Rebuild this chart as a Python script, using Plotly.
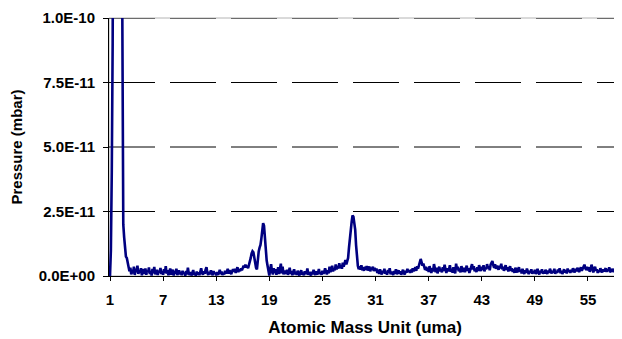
import numpy as np
import plotly.graph_objects as go

# Mass axis: 1.0 .. 58.7 amu, step 0.1
amu_start = 1.0
amu_step = 0.1

# Pressure in units of 1e-12 mbar (one row = 2 amu)
pressure_e12 = [
    0, 10, 40, 90, 200, 350, 480, 560, 600, 560, 480, 380, 260, 170, 105, 20, 15, 9, 7.5, 7.0,
    4.5, 3.5, 1.8, 3.2, 0.6, 2.4, 1.0, 3.6, 0.4, 2.8, 1.5, 4.0, 0.8, 2.2, 1.2, 3.0, 0.3, 2.6, 1.8, 0.9,
    2.9, 0.5, 2.1, 1.4, 3.3, 0.7, 1.9, 0.2, 2.7, 1.1, 3.5, 0.6, 1.6, 2.4, 0.4, 2.0, 1.3, 3.1, 0.8, 1.7,
    0.5, 2.6, 1.2, 3.8, 0.9, 2.2, 0.3, 1.8, 2.9, 0.6, 1.5, 2.4, 0.2, 1.9, 1.0, 2.8, 0.4, 1.4, 2.2, 0.7,
    1.6, 0.3, 2.0, 0.8, 1.3, 0.1, 1.9, 0.6, 3.2, 1.0, 0.4, 1.5, 0.2, 1.1, 2.3, 0.5, 1.2, 0.0, 1.7, 0.6,
    1.4, 0.3, 2.1, 3.0, 1.1, 0.5, 1.8, 0.9, 2.5, 3.4, 1.2, 0.4, 1.6, 0.7, 2.2, 1.0, 0.3, 1.9, 0.8, 1.3,
    0.2, 1.5, 0.6, 1.1, 2.4, 0.8, 1.7, 0.4, 1.2, 0.6, 2.0, 1.0, 1.6, 2.8, 0.9, 2.2, 1.4, 0.7, 1.9, 2.6,
    1.6, 2.8, 1.2, 2.1, 3.4, 1.5, 2.6, 1.9, 3.0, 2.2, 3.0, 4.0, 3.2, 4.4, 3.4, 4.0, 3.0, 4.2, 5.0, 7.0,
    8.8, 9.6, 9.2, 7.0, 5.0, 3.2, 2.6, 6.5, 9.5, 11.0, 12.0, 14.5, 17.5, 20.5, 19.5, 14.0, 10.0, 6.0, 4.0, 1.5,
    0.2, 2.5, 4.6, 1.8, 0.6, 3.0, 1.2, 2.6, 0.5, 1.6, 3.4, 0.8, 2.2, 4.8, 1.0, 3.6, 0.6, 2.0, 1.4, 0.9,
    2.4, 0.5, 1.5, 3.2, 0.8, 1.9, 0.3, 1.2, 2.6, 0.7, 1.6, 0.4, 2.0, 1.1, 0.2, 1.4, 2.2, 0.6, 1.3, 0.3,
    1.8, 0.8, 1.2, 2.9, 0.5, 1.5, 0.9, 0.2, 1.6, 0.7, 2.4, 1.0, 0.4, 1.8, 0.6, 1.3, 2.7, 0.8, 1.5, 0.5,
    2.0, 0.9, 1.4, 3.0, 1.2, 0.6, 2.2, 1.0, 3.6, 1.5, 2.4, 4.0, 1.8, 3.0, 2.2, 4.5, 2.6, 3.8, 2.9, 5.0,
    3.0, 4.2, 2.8, 5.2, 3.6, 4.6, 6.2, 4.5, 5.5, 7.0, 11.0, 15.0, 17.5, 21.0, 23.5, 23.0, 20.5, 18.0, 12.0, 6.0,
    4.0, 2.6, 3.8, 2.4, 4.2, 2.2, 3.4, 2.0, 3.6, 2.5, 3.9, 2.1, 3.0, 3.7, 1.8, 3.3, 2.4, 3.6, 1.9, 3.1,
    2.0, 2.9, 1.2, 2.4, 0.8, 2.6, 1.5, 0.6, 2.0, 1.1, 2.8, 0.9, 1.7, 0.5, 2.3, 1.2, 3.0, 0.7, 1.6, 1.0,
    0.4, 1.9, 1.0, 2.6, 0.7, 1.5, 2.2, 0.9, 1.8, 0.5, 1.4, 2.4, 1.1, 0.6, 2.0, 1.3, 2.8, 1.6, 2.2, 1.2,
    2.5, 1.4, 3.0, 1.8, 2.6, 3.4, 2.0, 3.8, 2.8, 4.4, 5.2, 6.6, 5.4, 4.0, 4.8, 3.2, 2.4, 3.6, 2.0, 3.2,
    1.6, 3.8, 2.2, 1.2, 3.0, 1.8, 4.6, 2.4, 1.5, 3.2, 1.0, 2.6, 3.6, 1.8, 2.8, 1.4, 3.4, 2.0, 4.4, 2.6,
    1.2, 3.0, 1.9, 2.6, 4.2, 1.6, 2.8, 1.3, 3.4, 2.2, 1.0, 4.8, 2.6, 3.6, 1.8, 2.9, 1.4, 3.8, 2.2, 1.6,
    3.2, 1.5, 2.8, 4.0, 2.0, 3.0, 1.2, 2.4, 3.6, 4.6, 2.6, 3.8, 1.8, 2.9, 1.5, 3.4, 2.0, 4.2, 2.8, 1.9,
    3.6, 2.4, 4.2, 1.8, 3.2, 2.6, 4.6, 3.0, 3.8, 2.2, 4.4, 5.0, 5.8, 4.2, 3.2, 4.6, 2.8, 4.0, 3.4, 2.4,
    4.0, 3.0, 4.8, 2.6, 3.6, 2.0, 3.2, 4.2, 2.4, 3.4, 1.8, 2.8, 3.8, 2.0, 3.0, 1.6, 2.6, 1.2, 3.2, 2.2,
    1.4, 2.6, 3.4, 1.6, 2.4, 1.0, 2.8, 1.5, 0.8, 2.2, 1.2, 2.9, 1.6, 0.7, 2.0, 1.3, 2.6, 0.9, 1.8, 1.1,
    2.4, 0.8, 1.6, 2.8, 1.2, 0.6, 2.0, 1.4, 2.6, 0.9, 1.7, 1.0, 2.4, 1.5, 0.8, 2.1, 1.2, 2.8, 1.6, 1.0,
    2.0, 1.3, 2.8, 0.9, 1.8, 1.2, 2.5, 1.5, 3.0, 1.1, 2.0, 0.8, 1.6, 2.6, 1.3, 2.2, 1.0, 2.9, 1.7, 2.3,
    1.2, 2.4, 1.6, 3.0, 2.0, 1.4, 2.8, 1.8, 3.2, 2.2, 1.5, 2.6, 3.4, 2.0, 2.8, 3.8, 4.4, 3.0, 2.4, 3.6,
    2.2, 3.4, 1.6, 2.8, 4.4, 3.0, 1.4, 2.4, 3.6, 2.0, 2.6, 1.2, 2.2, 1.6, 3.0, 2.0, 1.4, 2.6, 1.8, 2.4,
    3.0, 1.6, 2.6, 2.0, 3.4, 1.4, 2.2, 1.8, 2.8, 1.5, 2.4, 3.2, 1.8, 2.6, 1.4, 2.2, 3.0, 2.0,
]

x_tick_vals = [1, 7, 13, 19, 25, 31, 37, 43, 49, 55]
y_tick_vals = [0, 2.5e-11, 5.0e-11, 7.5e-11, 1.0e-10]
y_tick_text = ["0.0E+00", "2.5E-11", "5.0E-11", "7.5E-11", "1.0E-10"]

amu = amu_start + amu_step * np.arange(len(pressure_e12))
pressure = np.array(pressure_e12) * 1e-12

FONT = "Liberation Sans, Arial, sans-serif"

fig = go.Figure()
fig.add_trace(go.Scatter(
    x=amu, y=pressure, mode="lines",
    line=dict(color="#000080", width=2.6),
    showlegend=False, hoverinfo="skip",
))

# plot-area border (light grey) and dashed horizontal gridlines
fig.add_shape(type="rect", xref="paper", yref="paper", x0=0, y0=0, x1=1, y1=1,
              line=dict(color="#b4b4b4", width=1), layer="below")
for yv in y_tick_vals[1:]:
    fig.add_shape(type="line", xref="paper", yref="y", x0=0, x1=1, y0=yv, y1=yv,
                  line=dict(color="black", width=1, dash="46,15"), layer="below")

# the page body has an 8px margin, so the figure is 8px smaller than the window
fig.update_layout(
    width=614, height=331,
    margin=dict(l=101, r=1, t=10, b=63),
    paper_bgcolor="white", plot_bgcolor="white",
    font=dict(family=FONT, color="black"),
)
fig.update_xaxes(
    range=[0.887, 58.73],
    tickvals=x_tick_vals,
    ticktext=[str(v) for v in x_tick_vals],
    tickfont=dict(size=15, weight="bold"),
    ticks="outside", ticklen=4, tickcolor="black",
    ticklabelstandoff=6,
    showline=True, linecolor="black", linewidth=1,
    showgrid=False, zeroline=False, automargin=False,
    title=dict(text="Atomic Mass Unit (uma)", font=dict(size=17, weight="bold"), standoff=14),
)
fig.update_yaxes(
    range=[0, 1.0e-10],
    tickvals=y_tick_vals, ticktext=y_tick_text,
    tickfont=dict(size=15, weight="bold"),
    ticks="outside", ticklen=5, tickcolor="black",
    ticklabelstandoff=5,
    showline=True, linecolor="black", linewidth=1,
    showgrid=False, zeroline=False, automargin=False,
    title=dict(text="Pressure (mbar)", font=dict(size=15, weight="bold"), standoff=15),
)

fig.write_html("out.html")
